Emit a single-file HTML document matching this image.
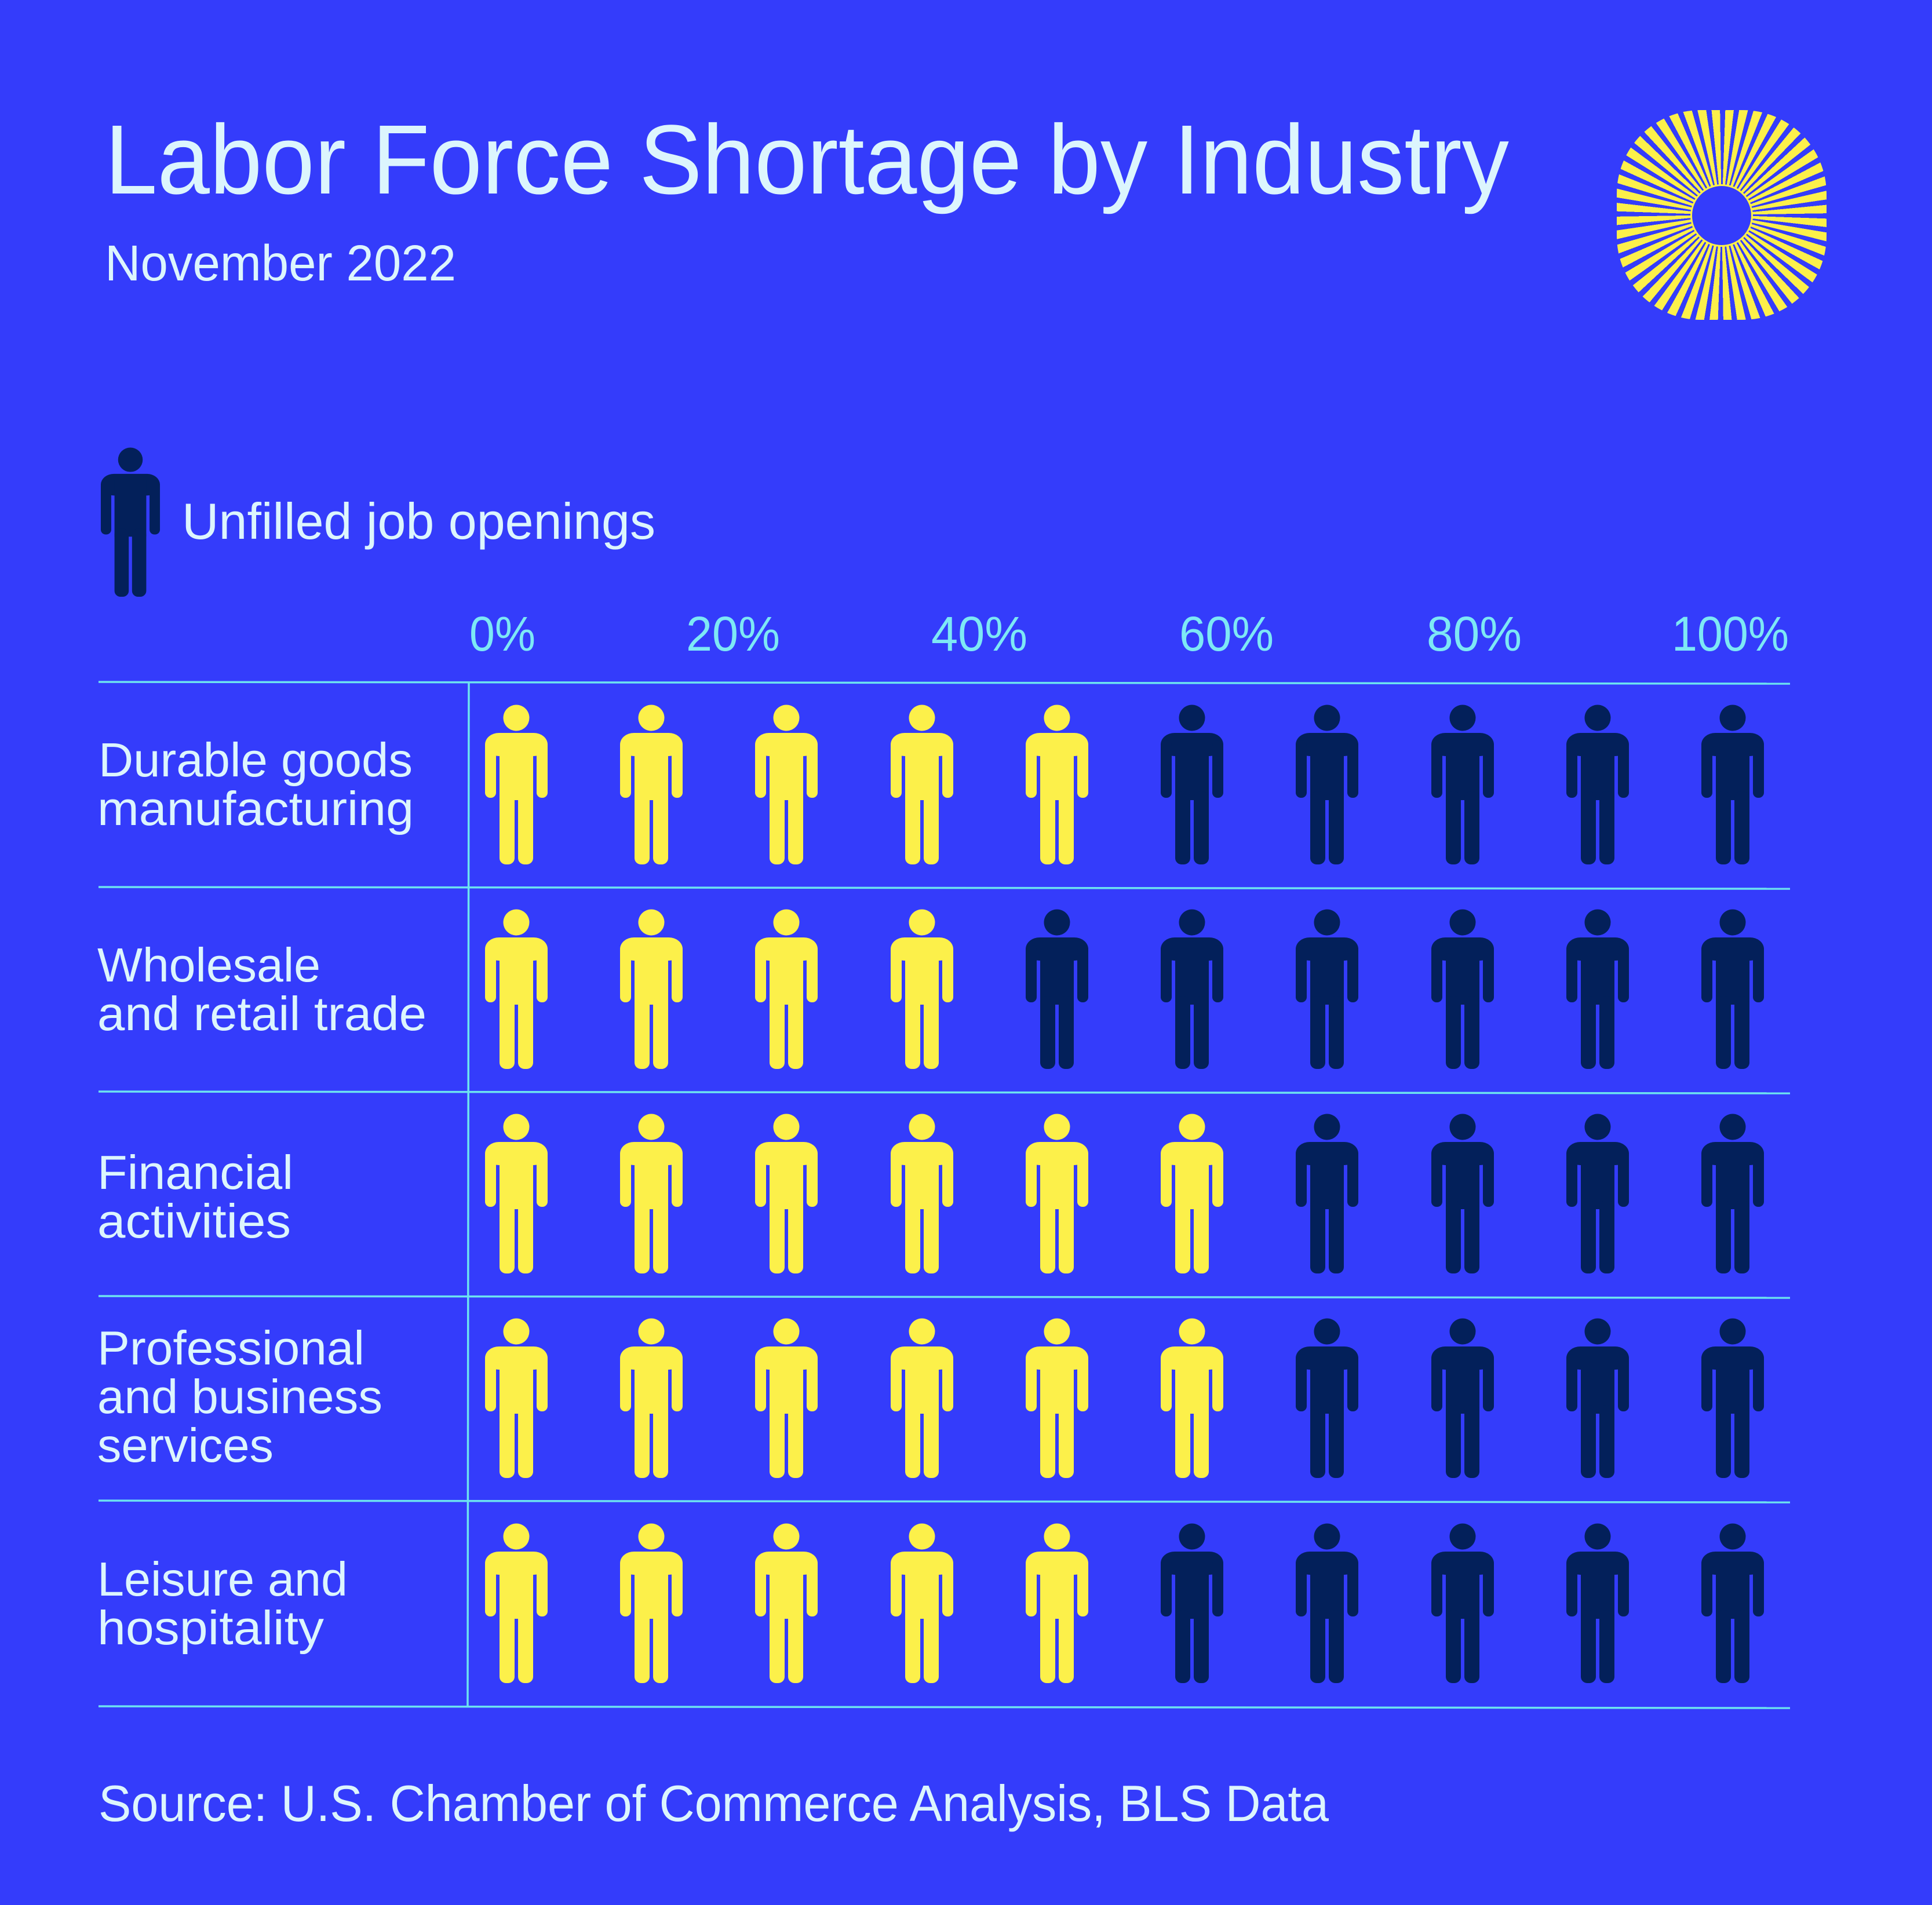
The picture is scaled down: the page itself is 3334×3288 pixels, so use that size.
<!DOCTYPE html>
<html><head><meta charset="utf-8">
<style>
html,body{margin:0;padding:0;background:#343cfb;}
#wrap{position:relative;width:3334px;height:3288px;overflow:hidden;background:#343cfb;}
#logo{position:absolute;left:2790px;top:190px;width:362px;height:362px;border-radius:40%;
background:repeating-conic-gradient(from 2deg,#fcf04a 0deg 4.6deg,transparent 4.6deg 7.5deg);}
#hole{position:absolute;left:2920px;top:321px;width:102px;height:102px;border-radius:50%;background:#343cfb;box-shadow:0 0 0 3px #fcf04a;}
svg{position:absolute;left:0;top:0;}
text{font-family:"Liberation Sans",sans-serif;}
</style></head><body><div id="wrap">
<div id="logo"></div><div id="hole"></div>
<svg width="3334" height="3288" viewBox="0 0 3334 3288">
<defs>
<g id="p">
<circle cx="0" cy="23" r="22.5"/>
<rect x="-54" y="49" width="108" height="40" rx="24"/>
<rect x="-54" y="62" width="19" height="99" rx="9"/>
<rect x="35" y="62" width="19" height="99" rx="9"/>
<rect x="-29" y="60" width="58" height="105"/>
<rect x="-29" y="150" width="26" height="126" rx="11"/>
<rect x="3" y="150" width="26" height="126" rx="11"/>
</g>
</defs>
<g fill="#dcf5fd">
<text x="181" y="334" font-size="170" textLength="2423" lengthAdjust="spacingAndGlyphs">Labor Force Shortage by Industry</text>
<text x="181" y="484" font-size="87" textLength="606" lengthAdjust="spacingAndGlyphs">November 2022</text>
<text x="314" y="930" font-size="88" textLength="817" lengthAdjust="spacingAndGlyphs">Unfilled job openings</text>
<text x="170" y="3143" font-size="88" textLength="2123" lengthAdjust="spacingAndGlyphs">Source: U.S. Chamber of Commerce Analysis, BLS Data</text>
<g font-size="83">
<text x="170" y="1340" textLength="542" lengthAdjust="spacingAndGlyphs">Durable goods</text>
<text x="168" y="1424" textLength="546" lengthAdjust="spacingAndGlyphs">manufacturing</text>
<text x="168" y="1694" textLength="385" lengthAdjust="spacingAndGlyphs">Wholesale</text>
<text x="168" y="1778" textLength="568" lengthAdjust="spacingAndGlyphs">and retail trade</text>
<text x="168" y="2052" textLength="338" lengthAdjust="spacingAndGlyphs">Financial</text>
<text x="168" y="2136" textLength="334" lengthAdjust="spacingAndGlyphs">activities</text>
<text x="168" y="2355" textLength="461" lengthAdjust="spacingAndGlyphs">Professional</text>
<text x="168" y="2439" textLength="492" lengthAdjust="spacingAndGlyphs">and business</text>
<text x="168" y="2523" textLength="304" lengthAdjust="spacingAndGlyphs">services</text>
<text x="168" y="2754" textLength="432" lengthAdjust="spacingAndGlyphs">Leisure and</text>
<text x="168" y="2838" textLength="391" lengthAdjust="spacingAndGlyphs">hospitality</text>
</g>
</g>
<g fill="#7de8f5" font-size="84">
<text x="810" y="1123" textLength="114" lengthAdjust="spacingAndGlyphs">0%</text>
<text x="1184" y="1123" textLength="162" lengthAdjust="spacingAndGlyphs">20%</text>
<text x="1607" y="1123" textLength="166" lengthAdjust="spacingAndGlyphs">40%</text>
<text x="2035" y="1123" textLength="163" lengthAdjust="spacingAndGlyphs">60%</text>
<text x="2462" y="1123" textLength="164" lengthAdjust="spacingAndGlyphs">80%</text>
<text x="2885" y="1123" textLength="202" lengthAdjust="spacingAndGlyphs">100%</text>
</g>
<g stroke="#6de3f0" stroke-width="3.5">
<line x1="170" y1="1177" x2="3089" y2="1180"/>
<line x1="170" y1="1531" x2="3089" y2="1534"/>
<line x1="170" y1="1884" x2="3089" y2="1887"/>
<line x1="170" y1="2237" x2="3089" y2="2240"/>
<line x1="170" y1="2590" x2="3089" y2="2593"/>
<line x1="170" y1="2945" x2="3089" y2="2948"/>
<line x1="809" y1="1177" x2="807" y2="2946"/>
</g>
<g fill="#03205a" transform="translate(225,772) scale(0.945,0.935)"><use href="#p"/></g>
<g fill="#fcf04a">
<use href="#p" x="891" y="1216"/><use href="#p" x="1124" y="1216"/><use href="#p" x="1357" y="1216"/><use href="#p" x="1591" y="1216"/><use href="#p" x="1824" y="1216"/>
<use href="#p" x="891" y="1569"/><use href="#p" x="1124" y="1569"/><use href="#p" x="1357" y="1569"/><use href="#p" x="1591" y="1569"/>
<use href="#p" x="891" y="1922"/><use href="#p" x="1124" y="1922"/><use href="#p" x="1357" y="1922"/><use href="#p" x="1591" y="1922"/><use href="#p" x="1824" y="1922"/><use href="#p" x="2057" y="1922"/>
<use href="#p" x="891" y="2275"/><use href="#p" x="1124" y="2275"/><use href="#p" x="1357" y="2275"/><use href="#p" x="1591" y="2275"/><use href="#p" x="1824" y="2275"/><use href="#p" x="2057" y="2275"/>
<use href="#p" x="891" y="2629"/><use href="#p" x="1124" y="2629"/><use href="#p" x="1357" y="2629"/><use href="#p" x="1591" y="2629"/><use href="#p" x="1824" y="2629"/>
</g>
<g fill="#03205a">
<use href="#p" x="2057" y="1216"/><use href="#p" x="2290" y="1216"/><use href="#p" x="2524" y="1216"/><use href="#p" x="2757" y="1216"/><use href="#p" x="2990" y="1216"/>
<use href="#p" x="1824" y="1569"/><use href="#p" x="2057" y="1569"/><use href="#p" x="2290" y="1569"/><use href="#p" x="2524" y="1569"/><use href="#p" x="2757" y="1569"/><use href="#p" x="2990" y="1569"/>
<use href="#p" x="2290" y="1922"/><use href="#p" x="2524" y="1922"/><use href="#p" x="2757" y="1922"/><use href="#p" x="2990" y="1922"/>
<use href="#p" x="2290" y="2275"/><use href="#p" x="2524" y="2275"/><use href="#p" x="2757" y="2275"/><use href="#p" x="2990" y="2275"/>
<use href="#p" x="2057" y="2629"/><use href="#p" x="2290" y="2629"/><use href="#p" x="2524" y="2629"/><use href="#p" x="2757" y="2629"/><use href="#p" x="2990" y="2629"/>
</g>
</svg>
</div></body></html>
